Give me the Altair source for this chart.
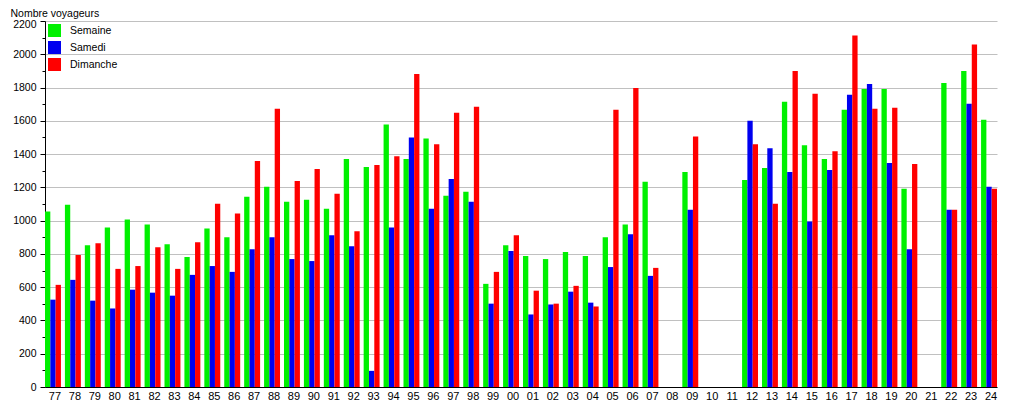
import altair as alt
import pandas as pd

years = ["77","78","79","80","81","82","83","84","85","86","87","88","89","90","91",
         "92","93","94","95","96","97","98","99","00","01","02","03","04","05","06","07",
         "08","09","10","11","12","13","14","15","16","17","18","19","20","21","22","23","24"]

semaine = [1055,1096,852,959,1007,977,858,781,953,900,1144,1203,1114,1126,1072,
           1370,1322,1578,1370,1494,1150,1173,620,852,787,769,811,787,900,977,1233,
           None,1292,None,None,1245,1316,1714,1453,1370,1667,1792,1792,1191,None,1827,1899,1607]
samedi = [525,644,519,472,585,567,549,674,727,692,828,900,769,757,912,
          846,97,959,1500,1072,1251,1114,501,817,436,496,573,507,721,918,668,
          None,1066,None,None,1601,1435,1292,995,1304,1756,1821,1346,828,None,1066,1703,1203]
dimanche = [614,793,864,710,727,840,710,870,1102,1043,1358,1673,1239,1310,1161,
            936,1334,1387,1881,1459,1649,1685,692,912,579,501,608,484,1667,1798,716,
            None,1506,None,None,1459,1102,1899,1762,1417,2113,1673,1679,1340,None,1066,2059,1191]

series = ["Semaine", "Samedi", "Dimanche"]
colors = ["#00f000", "#0000f0", "#ff0000"]

rows = []
for name, vals in zip(series, [semaine, samedi, dimanche]):
    for y, v in zip(years, vals):
        if v is not None:
            rows.append({"annee": y, "serie": name, "voyageurs": v})
df = pd.DataFrame(rows)

FONT = "Liberation Sans"
TOP = 13

chart = alt.Chart(df).mark_bar().encode(
    x=alt.X("annee:N", sort=years,
            scale=alt.Scale(domain=years, paddingInner=0.2, paddingOuter=0),
            axis=alt.Axis(title=None, labelAngle=0, ticks=False, grid=False,
                          domainColor="black", labelPadding=3, labelOffset=2,
                          labelFontSize=11, labelColor="black", labelFont=FONT)),
    xOffset=alt.XOffset("serie:N", sort=series,
                        scale=alt.Scale(domain=series, paddingInner=0, paddingOuter=0)),
    y=alt.Y("voyageurs:Q",
            scale=alt.Scale(domain=[0, 2200], nice=False),
            axis=alt.Axis(values=list(range(0, 2201, 100)),
                          labelExpr="datum.value % 200 === 0 ? datum.label : ''",
                          format="d",
                          labelOffset={"condition": {"test": "datum.value === 2200", "value": 3}, "value": 0},
                          tickSize={"condition": {"test": "datum.value % 200 === 0", "value": 5}, "value": 3},
                          tickColor="black", domainColor="black",
                          gridOpacity={"condition": {"test": "datum.value % 200 === 0", "value": 1}, "value": 0},
                          gridColor="#c0c0c0",
                          labelPadding=4, labelFontSize=10.5, labelColor="black", labelFont=FONT,
                          title="Nombre voyageurs", titleAngle=0, titleAlign="left",
                          titleBaseline="top", titleX=-35, titleY=-TOP,
                          titleFontWeight="normal", titleFontSize=10.5, titleFont=FONT,
                          titleColor="black")),
    color=alt.Color("serie:N", sort=series,
                    scale=alt.Scale(domain=series, range=colors),
                    legend=alt.Legend(title=None, orient="none", legendX=3, legendY=3,
                                      symbolType="square", symbolSize=169, symbolStrokeWidth=0,
                                      symbolOpacity=1, labelFontSize=10.5, labelFont=FONT,
                                      labelColor="black", rowPadding=4, labelOffset=9,
                                      padding=0)),
).properties(
    width=952, height=366,
    autosize=alt.AutoSizeParams(type="none"),
    padding={"left": 37, "top": TOP, "right": 10, "bottom": 13},
).configure_view(stroke=None)

chart.save("out.html", embed_options={"renderer": "svg", "actions": False})
